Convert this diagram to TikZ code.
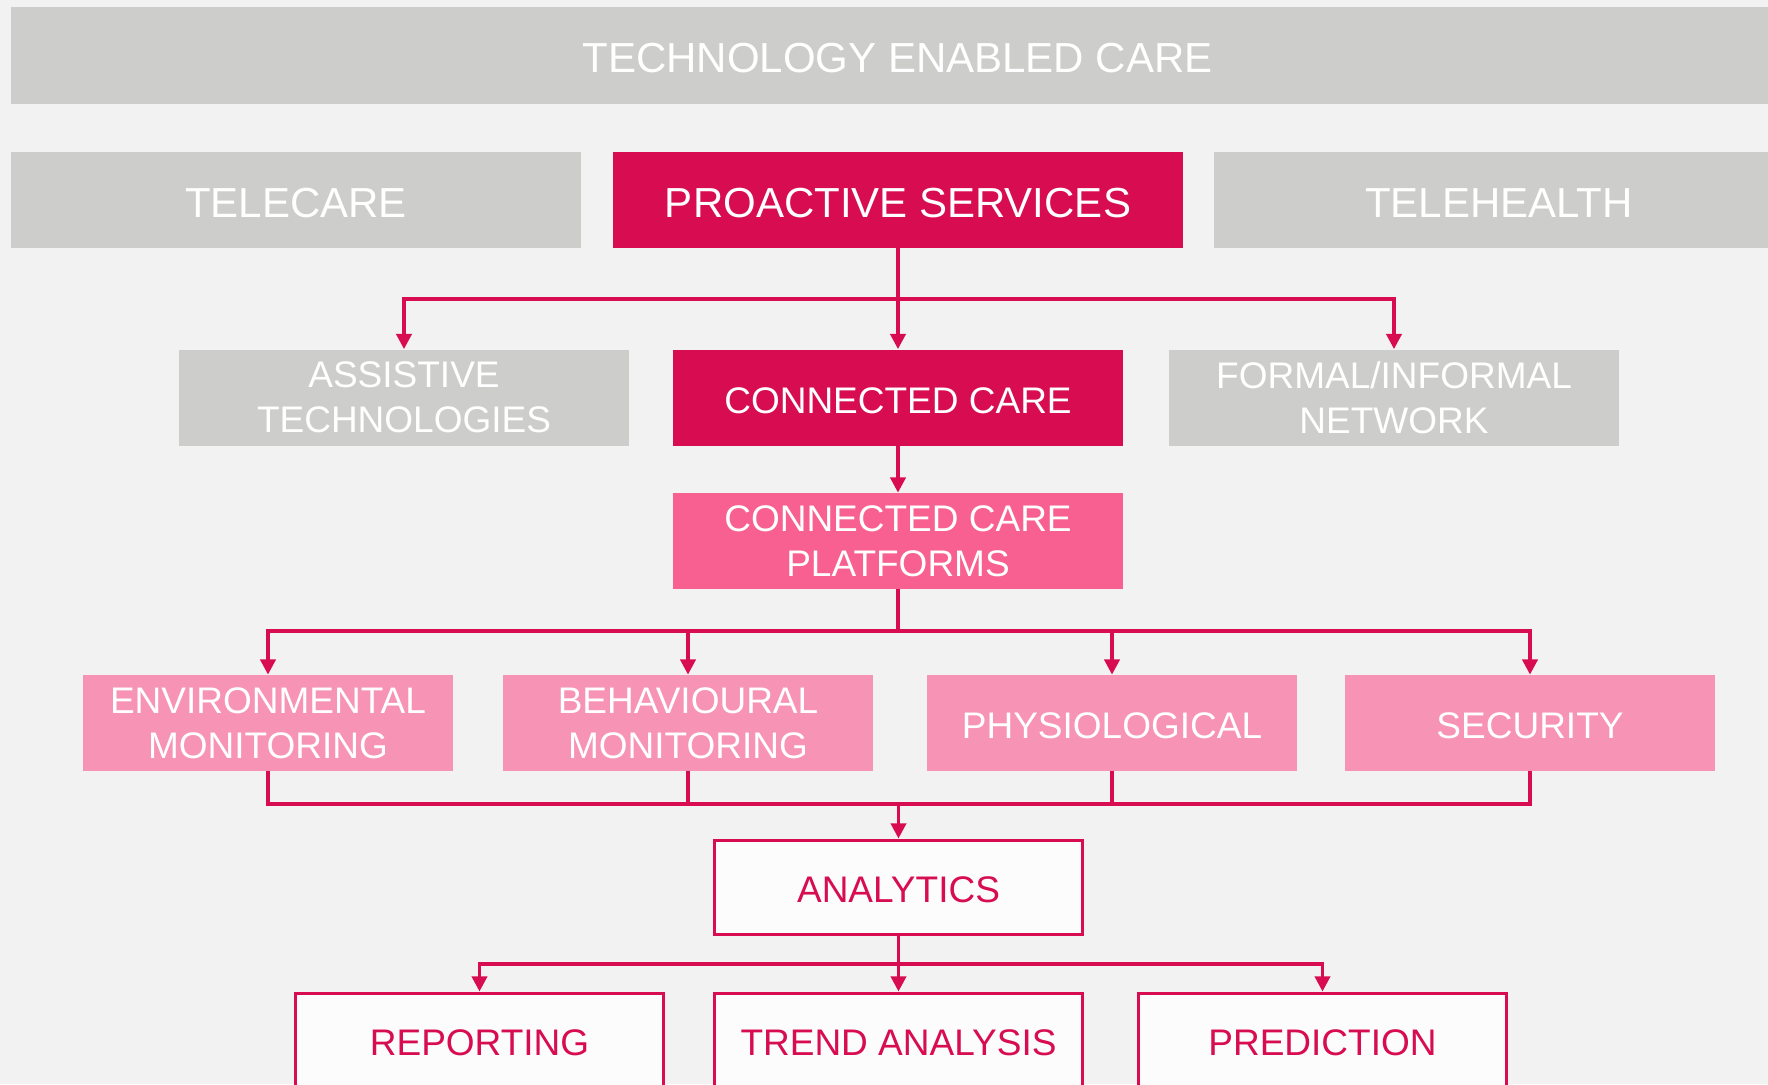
\documentclass[tikz,border=0pt]{standalone}
\usepackage{fontspec}
\setmainfont{Liberation Sans}
\usetikzlibrary{arrows.meta}
\definecolor{bgc}{HTML}{F2F2F2}
\definecolor{gboxc}{HTML}{CDCDCB}
\definecolor{dpink}{HTML}{D80C51}
\definecolor{mpink}{HTML}{F86092}
\definecolor{lpink}{HTML}{F793B5}
\definecolor{wboxc}{HTML}{FCFCFC}
\begin{document}
\begin{tikzpicture}[x=0.5pt,y=-0.5pt,
  base/.style={rectangle, inner sep=0pt, align=center, text=white, minimum height=48pt},
  bigtext/.style={font=\fontsize{21pt}{25pt}\selectfont, execute at begin node={\rule{0pt}{17.6pt}}},
  smalltext/.style={font=\fontsize{18.5pt}{22.5pt}\selectfont, execute at begin node={\rule{0pt}{15.9pt}}},
  twoline/.style={font=\fontsize{18.5pt}{22.5pt}\selectfont, execute at begin node={\rule{0pt}{18pt}}},
  graybox/.style={base, fill=gboxc},
  darkbox/.style={base, fill=dpink},
  midbox/.style={base, fill=mpink},
  lightbox/.style={base, fill=lpink},
  whitebox/.style={base, fill=wboxc, draw=dpink, line width=1.5pt, text=dpink},
  conn/.style={draw=dpink, line width=1.7pt},
  arr/.style={conn, -{Triangle[width=7.6pt,length=7.6pt]}}
]
\clip (0,0) rectangle (1768,1084);
\fill[bgc] (0,0) rectangle (1768,1084);

% top banner
\node[graybox, bigtext, minimum width=886.5pt, minimum height=48.5pt] (tec) at (897.5,55.5) {TECHNOLOGY ENABLED CARE};

% row 2
\node[graybox, bigtext, minimum width=285pt] (telecare) at (296,200) {TELECARE};
\node[darkbox, bigtext, minimum width=285pt] (ps) at (898,200) {PROACTIVE SERVICES};
\node[graybox, bigtext, minimum width=285pt] (telehealth) at (1499,200) {TELEHEALTH};

% row 3
\node[graybox, twoline, minimum width=225pt] (assist) at (404,397.5) {ASSISTIVE\\TECHNOLOGIES};
\node[darkbox, smalltext, minimum width=225pt] (cc) at (898,397.5) {CONNECTED CARE};
\node[graybox, twoline, minimum width=225pt] (formal) at (1394,397.5) {FORMAL/INFORMAL\\NETWORK};

% platforms
\node[midbox, twoline, minimum width=225pt] (plat) at (898,541) {CONNECTED CARE\\PLATFORMS};

% row 4
\node[lightbox, twoline, minimum width=185pt] (env) at (268,723) {ENVIRONMENTAL\\MONITORING};
\node[lightbox, twoline, minimum width=185pt] (beh) at (688,723) {BEHAVIOURAL\\MONITORING};
\node[lightbox, smalltext, minimum width=185pt] (phys) at (1112,723) {PHYSIOLOGICAL};
\node[lightbox, smalltext, minimum width=185pt] (sec) at (1530,723) {SECURITY};

% analytics
\node[whitebox, smalltext, minimum width=184pt, minimum height=47pt] (anal) at (898.5,887) {ANALYTICS};

% bottom row
\node[whitebox, smalltext, minimum width=184pt, minimum height=47pt] (rep) at (479.5,1040) {REPORTING};
\node[whitebox, smalltext, minimum width=184pt, minimum height=47pt] (trend) at (898.5,1040) {TREND ANALYSIS};
\node[whitebox, smalltext, minimum width=184pt, minimum height=47pt] (pred) at (1322.5,1040) {PREDICTION};

% connectors: proactive services -> row 3
\coordinate (j1) at (898,299);
\draw[conn] (ps.south) -- (j1);
\draw[arr] (j1) -| (assist.north);
\draw[arr] (j1) -- (cc.north);
\draw[arr] (j1) -| (formal.north);

% connected care -> platforms
\draw[arr] (cc.south) -- (plat.north);

% platforms -> row 4
\coordinate (j2) at (898,631);
\draw[conn] (plat.south) -- (j2);
\draw[arr] (j2) -| (env.north);
\draw[arr] (j2) -| (beh.north);
\draw[arr] (j2) -| (phys.north);
\draw[arr] (j2) -| (sec.north);

% row 4 -> analytics
\coordinate (j3) at (898.5,804);
\draw[conn] (env.south) |- (j3);
\draw[conn] (beh.south) |- (j3);
\draw[conn] (phys.south) |- (j3);
\draw[conn] (sec.south) |- (j3);
\draw[arr] (j3) -- (anal.north);

% analytics -> bottom row
\coordinate (j4) at (898.5,964);
\draw[conn] (anal.south) -- (j4);
\draw[arr] (j4) -| (rep.north);
\draw[arr] (j4) -- (trend.north);
\draw[arr] (j4) -| (pred.north);
\end{tikzpicture}
\end{document}
